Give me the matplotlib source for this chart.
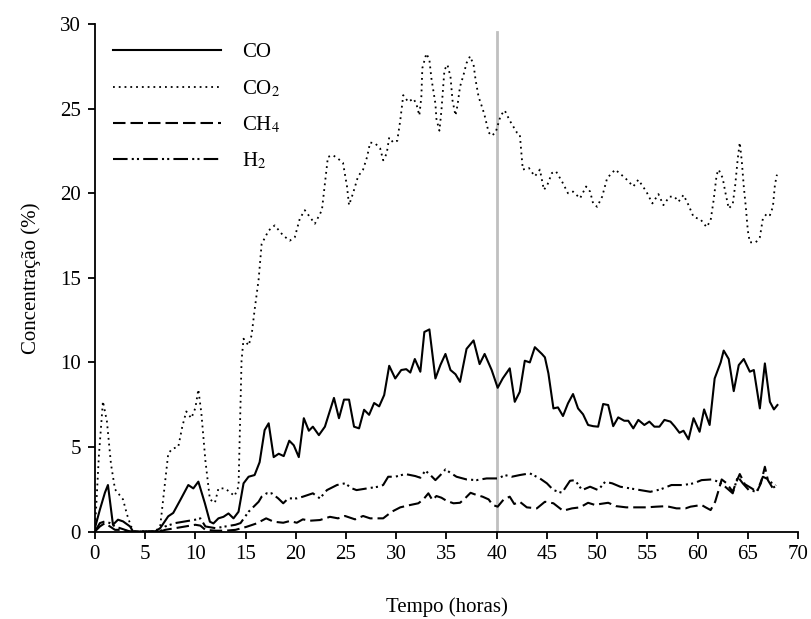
import matplotlib
matplotlib.use('Agg')
from matplotlib import pyplot as plt

# ---- data ----
t_co = [0, 0.5, 1.0, 1.3, 1.8, 2.3, 2.8, 3.5, 3.8, 5,
        6, 6.5, 7.3, 7.8, 8.5, 9.3, 9.8, 10.3, 10.95, 11.45,
        11.8, 12.3, 12.8, 13.3, 13.8, 14.3, 14.8, 15.3, 15.9, 16.4,
        16.9, 17.3, 17.8, 18.3, 18.8, 19.35, 19.8, 20.3, 20.8, 21.3,
        21.7, 22.3, 22.9, 23.8, 24.3, 24.8, 25.3, 25.8, 26.3, 26.8,
        27.3, 27.8, 28.3, 28.8, 29.3, 29.9, 30.5, 31.0, 31.4, 31.85,
        32.4, 32.8, 33.3, 33.9, 34.4, 34.9, 35.4, 35.9, 36.35, 37.0,
        37.7, 38.3, 38.8, 39.5, 40.1, 40.6, 41.3, 41.8, 42.3, 42.8,
        43.3, 43.8, 44.5, 44.8, 45.15, 45.65, 46.1, 46.6, 47.1, 47.6,
        48.1, 48.6, 49.1, 49.6, 50.1, 50.6, 51.1, 51.6, 52.1, 52.7,
        53.1, 53.6, 54.1, 54.7, 55.2, 55.7, 56.2, 56.7, 57.3, 57.7,
        58.2, 58.6, 59.1, 59.6, 60.2, 60.65, 61.2, 61.7, 62.3, 62.6,
        63.1, 63.6, 64.1, 64.6, 65.2, 65.6, 66.2, 66.7, 67.2, 67.6,
        67.95]
co = [0.2, 1.3, 2.3, 2.75, 0.4, 0.7, 0.6, 0.3, 0, 0,
      0, 0.2, 0.9, 1.1, 1.86, 2.75, 2.55, 2.95, 1.67, 0.58,
      0.48, 0.78, 0.87, 1.07, 0.78, 1.17, 2.85, 3.24, 3.34, 4.1,
      6.0, 6.4, 4.4, 4.6, 4.46, 5.37, 5.1, 4.4, 6.7, 5.96,
      6.2, 5.7, 6.2, 7.9, 6.7, 7.8, 7.8, 6.2, 6.1, 7.2,
      6.9, 7.6, 7.4, 8.07, 9.8, 9.05, 9.55, 9.6, 9.4, 10.2,
      9.45, 11.8, 11.95, 9.05, 9.85, 10.5, 9.55, 9.3, 8.85, 10.8,
      11.3, 9.9, 10.5, 9.55, 8.5, 9.05, 9.65, 7.67, 8.26, 10.1,
      10.0, 10.9, 10.5, 10.3, 9.35, 7.28, 7.34, 6.83, 7.58, 8.13,
      7.28, 6.93, 6.3, 6.23, 6.2, 7.54, 7.48, 6.23, 6.75, 6.55,
      6.55, 6.1, 6.6, 6.3, 6.5, 6.2, 6.2, 6.6, 6.5, 6.23,
      5.84, 5.96, 5.45, 6.7, 5.9, 7.22, 6.3, 9.05, 10.0, 10.7,
      10.2, 8.3, 9.84, 10.2, 9.45, 9.55, 7.28, 9.94, 7.67, 7.22,
      7.48]

t_co2 = [0, 0.4, 0.8, 1.2, 1.6, 2.0, 2.4, 2.8, 3.2, 3.6,
         4, 5, 6, 6.5, 7.0, 7.3, 7.7, 8.3, 8.7, 9.1,
         9.6, 10.0, 10.3, 10.6, 11.0, 11.45, 11.95, 12.3, 12.95, 13.4,
         13.9, 14.3, 14.6, 14.8, 15.3, 15.6, 15.9, 16.3, 16.6, 17.3,
         17.9, 18.75, 19.4, 19.9, 20.4, 20.9, 21.9, 22.6, 23.2, 23.7,
         24.2, 24.7, 25.1, 25.3, 25.7, 26.2, 26.7, 27.1, 27.4, 27.9,
         28.4, 28.7, 29.05, 29.3, 29.7, 30.1, 30.4, 30.7, 31.2, 31.7,
         32.0, 32.3, 32.5, 32.6, 33.0, 33.3, 33.5, 33.9, 34.0, 34.3,
         34.5, 34.8, 35.1, 35.4, 35.6, 35.9, 36.1, 36.35, 36.7, 37.0,
         37.35, 37.7, 37.9, 38.2, 38.6, 38.8, 39.2, 39.5, 39.9, 40.4,
         40.8, 41.3, 42.0, 42.3, 42.6, 43.2, 43.8, 44.3, 44.7, 45.05,
         45.5, 45.9, 46.5, 47.1, 47.6, 48.3, 48.9, 49.3, 49.6, 50.0,
         50.5, 51.0, 51.8, 52.8, 53.6, 54.1, 54.9, 55.5, 56.1, 56.6,
         57.2, 57.7, 58.1, 58.6, 59.1, 59.6, 60.3, 60.9, 61.3, 61.6,
         61.9, 62.1, 62.5, 62.75, 63.1, 63.5, 63.75, 64.0, 64.2, 64.4,
         64.6, 64.8, 65.0, 65.2, 65.8, 66.2, 66.5, 66.9, 67.2, 67.5,
         67.7, 67.9]
co2 = [0, 4.5, 7.7, 6.5, 4.0, 2.5, 2.2, 1.9, 1.0, 0.3,
       0, 0, 0, 0.3, 3.0, 4.6, 4.9, 5.0, 6.2, 7.1,
       6.7, 7.3, 8.4, 7.0, 4.2, 1.9, 1.7, 2.55, 2.55, 2.35,
       2.1, 2.65, 10.1, 11.4, 11.0, 11.6, 13.1, 14.9, 17.0, 17.8,
       18.1, 17.5, 17.2, 17.4, 18.5, 19.0, 18.2, 19.0, 22.15, 22.25,
       22.05, 21.8, 20.4, 19.3, 20.0, 21.0, 21.4, 22.15, 23.0, 22.95,
       22.65, 21.95, 22.35, 23.3, 23.0, 23.1, 24.3, 25.8, 25.4, 25.6,
       25.3, 24.6, 25.7, 27.4, 28.26, 27.9, 26.8, 25.3, 24.4, 23.7,
       24.9, 27.3, 27.6, 26.9, 25.5, 24.6, 25.2, 26.3, 27.0, 27.7,
       28.1, 27.6, 26.7, 25.7, 25.0, 24.6, 23.6, 23.4, 23.6, 24.6,
       24.9, 24.3, 23.6, 23.5, 21.4, 21.5, 21.0, 21.4, 20.2, 20.5,
       21.2, 21.3, 20.7, 20.0, 20.1, 19.7, 20.4, 20.1, 19.4, 19.2,
       19.8, 20.9, 21.4, 20.9, 20.4, 20.8, 20.1, 19.4, 19.95, 19.3,
       19.8, 19.8, 19.5, 19.9, 19.3, 18.6, 18.45, 18.0, 18.4, 19.6,
       21.1, 21.4, 20.9, 20.1, 19.1, 19.35, 20.5, 22.05, 23.0, 21.9,
       20.4, 19.2, 17.8, 17.1, 17.1, 17.4, 18.5, 18.8, 18.7, 19.2,
       20.5, 21.1]

t_ch4 = [0, 0.5, 1.0, 1.5, 2.0, 2.5, 3.0, 3.5, 5, 6.5,
         7, 8, 9, 10, 10.5, 11, 12, 13, 14, 15.1,
         16.1, 17.05, 17.8, 18.75, 19.4, 20.1, 20.7, 21.4, 22.4, 23.4,
         24.2, 24.9, 25.9, 26.7, 27.4, 28.7, 29.55, 30.4, 31.4, 32.2,
         32.7, 33.2, 33.6, 34.0, 34.5, 35.0, 35.7, 36.35, 36.85, 37.4,
         38.0, 38.6, 39.2, 39.6, 40.1, 40.7, 41.3, 41.75, 42.3, 43.0,
         44.0, 44.8, 45.65, 46.6, 47.5, 48.3, 49.1, 49.8, 50.3, 51.1,
         51.9, 52.9, 53.9, 54.9, 55.9, 56.9, 57.9, 58.8, 59.3, 60.4,
         60.8, 61.3, 61.75, 62.1, 62.4, 62.9, 63.5, 63.8, 64.2, 64.7,
         65.4, 65.9, 66.3, 66.7, 67.0, 67.5, 67.8]
ch4 = [0, 0.3, 0.5, 0.3, 0.1, 0.1, 0.05, 0, 0, 0,
       0.1, 0.2, 0.3, 0.4, 0.35, 0.1, 0.05, 0.05, 0.1, 0.28,
       0.48, 0.78, 0.58, 0.52, 0.62, 0.52, 0.72, 0.64, 0.68, 0.87,
       0.78, 0.92, 0.72, 0.92, 0.78, 0.78, 1.17, 1.43, 1.57, 1.67,
       1.9, 2.26, 1.86, 2.1, 2.0, 1.82, 1.67, 1.7, 1.96, 2.29,
       2.16, 2.06, 1.9, 1.57, 1.47, 1.9, 2.06, 1.63, 1.76, 1.43,
       1.37, 1.76, 1.67, 1.23, 1.37, 1.43, 1.7, 1.57, 1.63, 1.7,
       1.5, 1.43, 1.43, 1.43, 1.47, 1.5, 1.37, 1.37, 1.47, 1.57,
       1.43, 1.27, 1.76, 2.45, 3.08, 2.85, 2.35, 2.85, 3.4, 2.8,
       2.55, 2.35, 2.85, 3.83, 3.04, 2.55, 2.75]

t_h2 = [0, 0.5, 1.0, 1.5, 2.0, 2.5, 3.0, 3.5, 5, 6.5,
        7, 8, 9, 10, 10.5, 11, 12, 13, 14, 14.5,
        15.3, 16.3, 16.6, 17.1, 17.6, 18.25, 18.75, 19.25, 20.1, 20.7,
        21.7, 22.4, 23.1, 24.1, 24.9, 25.6, 26.05, 27.1, 28.2, 28.7,
        29.2, 29.9, 30.9, 31.9, 32.4, 32.9, 33.4, 33.9, 34.4, 34.9,
        35.4, 36.0, 37.0, 38.0, 39.0, 40.2, 40.8, 41.5, 42.3, 43.3,
        44.3, 45.0, 45.65, 46.5, 47.3, 47.8, 48.5, 49.3, 50.1, 50.8,
        51.5, 52.3, 53.3, 54.3, 55.3, 56.3, 57.4, 58.6, 59.6, 60.4,
        61.4, 62.1, 62.75, 63.5, 64.0, 64.5, 65.1, 65.9, 66.5, 67.2,
        67.7]
h2 = [0, 0.5, 0.6, 0.5, 0.3, 0.2, 0.1, 0, 0, 0,
      0.3, 0.5, 0.6, 0.7, 0.78, 0.3, 0.2, 0.3, 0.4, 0.5,
      1.17, 1.76, 2.06, 2.26, 2.26, 1.96, 1.67, 1.96, 1.96, 2.06,
      2.26, 1.96, 2.45, 2.75, 2.85, 2.55, 2.45, 2.55, 2.65, 2.75,
      3.24, 3.24, 3.4, 3.28, 3.18, 3.6, 3.34, 3.04, 3.34, 3.67,
      3.47, 3.24, 3.08, 3.04, 3.14, 3.14, 3.34, 3.24, 3.34, 3.44,
      3.14, 2.85, 2.45, 2.29, 3.0, 3.04, 2.45, 2.65, 2.45, 2.94,
      2.85, 2.65, 2.55, 2.45, 2.35, 2.49, 2.75, 2.75, 2.85, 3.04,
      3.08, 2.94, 2.65, 2.26, 3.24, 2.85, 2.45, 2.35, 3.24, 3.04,
      2.55]

x_ticks = [0, 5, 10, 15, 20, 25, 30, 35, 40, 45, 50, 55, 60, 65, 70]
y_ticks = [0, 5, 10, 15, 20, 25, 30]
t_mark = 40

plt.rcParams['font.family'] = ['Liberation Serif', 'DejaVu Serif']
plt.rcParams['mathtext.fontset'] = 'stix'

fig = plt.figure(figsize=(8.11, 6.19), dpi=100)
ax = fig.add_axes([0.117, 0.1413, 0.867, 0.8197])

ax.axvline(t_mark, ymin=0, ymax=0.985, color='#c0c0c0', linewidth=2.0, zorder=1)

ax.plot(t_co, co, color='black', linewidth=1.5, label='CO', zorder=3)
ax.plot(t_co2, co2, color='black', linewidth=1.3, linestyle=(0, (1, 2.2)),
        label='CO$_2$', zorder=3)
ax.plot(t_ch4, ch4, color='black', linewidth=1.5, linestyle=(0, (6, 2.4)),
        label='CH$_4$', zorder=3)
ax.plot(t_h2, h2, color='black', linewidth=1.5,
        linestyle=(0, (7, 2, 1, 1.5, 1, 2)), label='H$_2$', zorder=3)

ax.set_xlim(0, 70)
ax.set_ylim(0, 30)
ax.set_xticks(x_ticks)
ax.set_yticks(y_ticks)

ax.spines['top'].set_visible(False)
ax.spines['right'].set_visible(False)
ax.spines['left'].set_linewidth(1.3)
ax.spines['bottom'].set_linewidth(1.3)
ax.tick_params(direction='out', length=5, width=1.3, labelsize=15, pad=5)

ax.set_xlabel('Tempo (horas)', fontsize=15, labelpad=24)
ax.set_ylabel('Concentração (%)', fontsize=15, labelpad=14)

ax.legend(loc='upper left', bbox_to_anchor=(0.0256, 0.963), frameon=False,
          fontsize=15, handlelength=5.2, handletextpad=1.0, labelspacing=0.75,
          borderpad=0, borderaxespad=0)

fig.savefig('out.png', dpi=100)
